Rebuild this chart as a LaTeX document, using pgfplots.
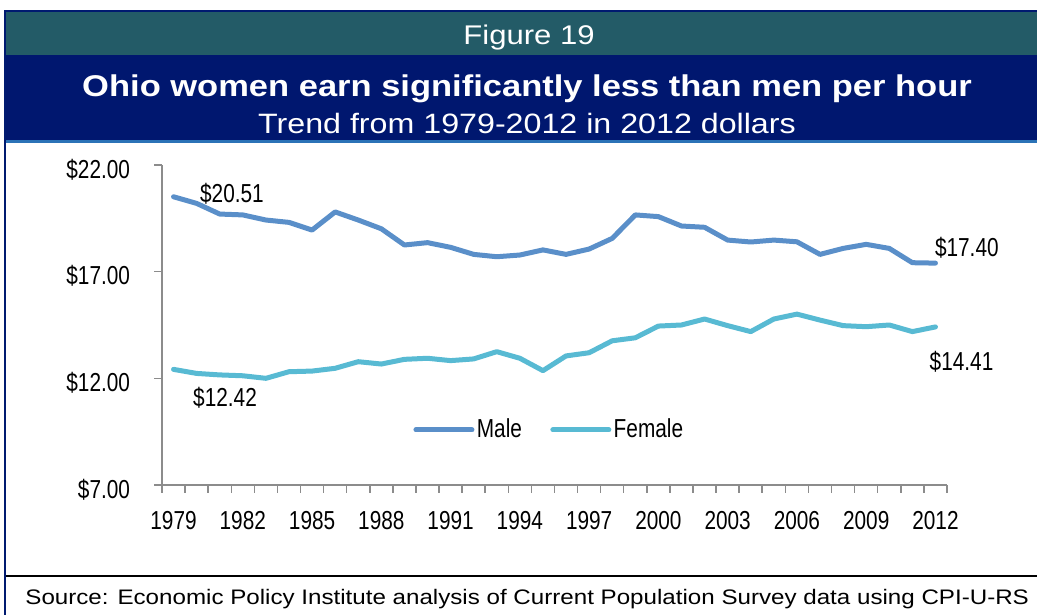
\documentclass[border=0pt]{standalone}
\usepackage{pgfplots}
\pgfplotsset{compat=1.18}
\usepackage{fontspec}
\setmainfont{Liberation Sans}
\newfontfamily\hdrfont{Liberation Sans}[FakeStretch=1.15]
\newfontfamily\chartfont{Liberation Sans}[FakeStretch=0.8]
\definecolor{maleblue}{HTML}{5A8FC9}
\definecolor{femblue}{HTML}{58BAD3}
\definecolor{hdrteal}{HTML}{235B67}
\definecolor{hdrnavy}{HTML}{00176F}
\definecolor{stripe}{HTML}{2B73B7}
\definecolor{bordnavy}{HTML}{001A70}
\definecolor{axisgray}{HTML}{8C8C8C}

\pgfplotstableread{
year male female
1979 20.51 12.42
1980 20.20 12.23
1981 19.70 12.16
1982 19.66 12.12
1983 19.42 12.00
1984 19.31 12.31
1985 18.95 12.34
1986 19.80 12.47
1987 19.42 12.78
1988 19.01 12.67
1989 18.25 12.89
1990 18.36 12.94
1991 18.14 12.83
1992 17.81 12.91
1993 17.70 13.25
1994 17.78 12.94
1995 18.02 12.36
1996 17.81 13.05
1997 18.06 13.20
1998 18.56 13.76
1999 19.66 13.90
2000 19.58 14.45
2001 19.14 14.50
2002 19.08 14.78
2003 18.48 14.47
2004 18.39 14.19
2005 18.48 14.78
2006 18.40 15.01
2007 17.81 14.73
2008 18.09 14.47
2009 18.28 14.42
2010 18.09 14.50
2011 17.42 14.19
2012 17.40 14.41
}\wages

\begin{document}
\begin{tikzpicture}
\begin{scope}[x=0.5pt,y=0.5pt]
\path[use as bounding box] (0,0) rectangle (1037,615);
% header bands
\fill[hdrteal] (5,560) rectangle (1037,604);
\fill[hdrnavy] (5,475) rectangle (1037,560);
\fill[stripe] (5,472) rectangle (1037,475);
% borders
\fill[bordnavy] (4,603) rectangle (1037,605);
\fill[bordnavy] (4,0) rectangle (6,605);
\fill[black] (6,38) rectangle (1037,40);
% header texts
\node[anchor=base, text=white, font=\hdrfont\fontsize{13.5}{15}\selectfont] at (529,570.7) {Figure 19};
\node[anchor=base, text=white, font=\hdrfont\bfseries\fontsize{15}{17}\selectfont] at (527,518.3) {Ohio women earn significantly less than men per hour};
\node[anchor=base, text=white, font=\hdrfont\fontsize{14}{16}\selectfont] at (527,481.7) {Trend from 1979-2012 in 2012 dollars};
\node[anchor=base west, inner sep=0pt, font=\hdrfont\fontsize{10.5}{12}\selectfont] at (25,10.7) {Source: Economic Policy Institute analysis of Current Population Survey data using CPI-U-RS};
\end{scope}

\begin{axis}[
  at={(81pt,65pt)}, anchor=south west,
  scale only axis, width=392.5pt, height=160pt,
  xmin=1978.5, xmax=2012.5, ymin=7, ymax=22,
  axis lines*=left,
  axis line style={draw=axisgray, line width=0.75pt},
  tick align=outside,
  major tick length=4pt, minor tick length=4pt,
  tick style={draw=axisgray, line width=0.75pt},
  xtick={1979,1982,1985,1988,1991,1994,1997,2000,2003,2006,2009,2012},
  xticklabels={1979,1982,1985,1988,1991,1994,1997,2000,2003,2006,2009,2012},
  minor xtick={1978.5,1979.5,...,2012.5},
  major x tick style={draw=none},
  ytick={7,12,17,22},
  yticklabels={\$7.00,\$12.00,\$17.00,\$22.00},
  tick label style={font=\chartfont\fontsize{13}{15}\selectfont},
  xticklabel style={anchor=base, yshift=-18.15pt},
  yticklabel style={anchor=base east, inner sep=0pt, outer sep=0pt, xshift=-12pt, yshift=-6.65pt},
  clip=false,
  legend columns=2,
  legend style={at={(0.4936,0.172)}, anchor=center, draw=none, fill=none,
    font=\chartfont\fontsize{13}{15}\selectfont,
    nodes={inner sep=1.2pt},
    /tikz/every even column/.append style={column sep=13pt}},
  legend image code/.code={\draw[#1, line cap=round] (0pt,0pt) -- (28pt,0pt);},
]
\addplot[color=maleblue, line width=2.5pt, line join=round, line cap=round] table[x=year, y=male] {\wages};
\addlegendentry{Male}
\addplot[color=femblue, line width=2.5pt, line join=round, line cap=round] table[x=year, y=female] {\wages};
\addlegendentry{Female}
\node[anchor=base, font=\chartfont\fontsize{13}{15}\selectfont] at (axis cs:1981.53,20.22) {\$20.51};
\node[anchor=base, font=\chartfont\fontsize{13}{15}\selectfont] at (axis cs:1981.23,10.70) {\$12.42};
\node[anchor=base, font=\chartfont\fontsize{13}{15}\selectfont] at (axis cs:2013.36,17.73) {\$17.40};
\node[anchor=base, font=\chartfont\fontsize{13}{15}\selectfont] at (axis cs:2013.13,12.39) {\$14.41};
\end{axis}
\end{tikzpicture}
\end{document}
